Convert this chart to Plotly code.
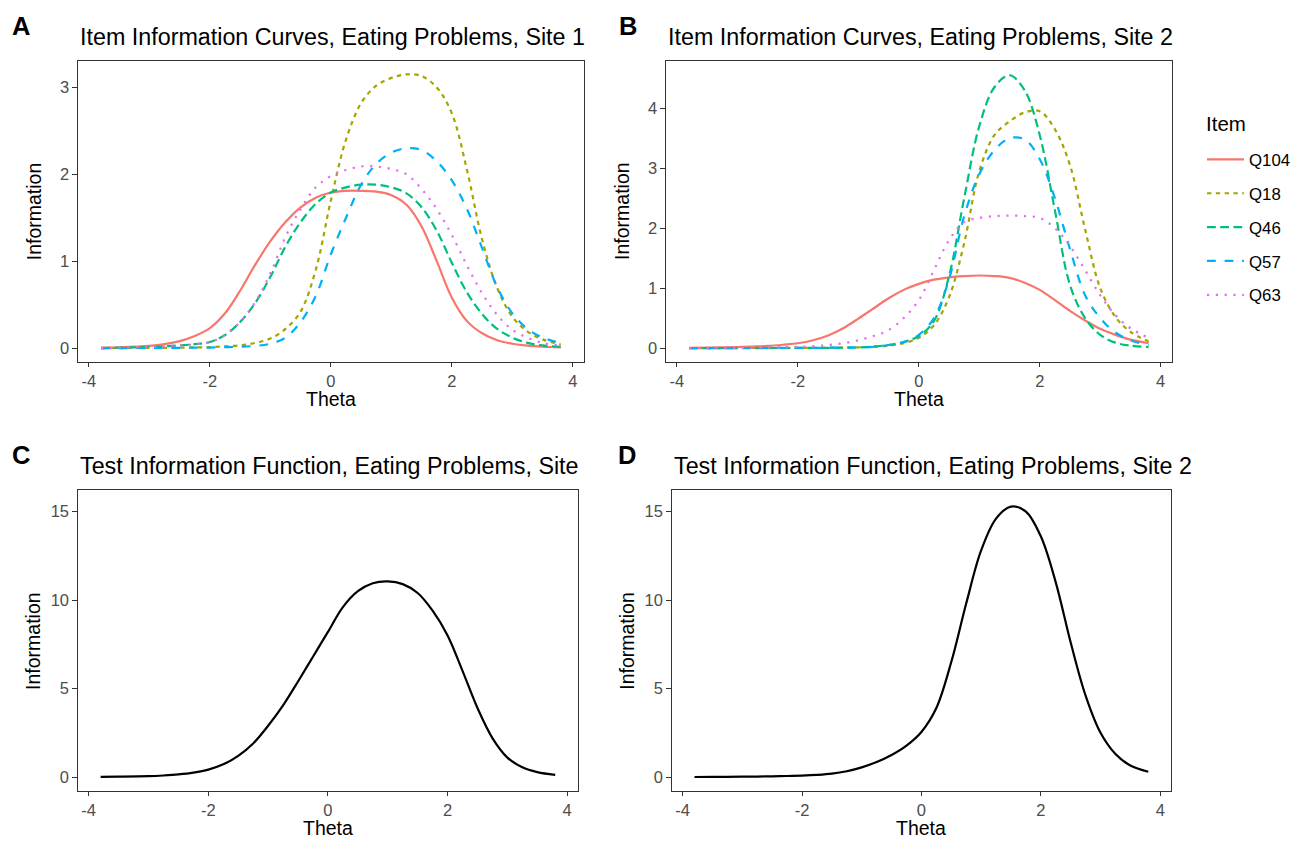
import plotly.graph_objects as go

# ---------------- data ----------------
theta = [-3.8, -3.5, -3.0, -2.75, -2.5, -2.25, -2.0, -1.75, -1.5, -1.25, -1.0, -0.75, -0.5, -0.25,
         0.0, 0.25, 0.5, 0.75, 1.0, 1.25, 1.5, 1.75, 2.0, 2.25, 2.5, 2.75, 3.0, 3.25, 3.5, 3.8]

items = ["Q104", "Q18", "Q46", "Q57", "Q63"]

# Site 1 item information
s1_q104 = [0.004, 0.008, 0.025, 0.045, 0.08, 0.14, 0.23, 0.40, 0.66, 0.96, 1.23, 1.45, 1.62, 1.73,
           1.79, 1.81, 1.81, 1.80, 1.76, 1.65, 1.40, 1.00, 0.58, 0.31, 0.17, 0.09, 0.05, 0.027, 0.015, 0.008]
s1_q18 = [0.0, 0.0, 0.002, 0.003, 0.005, 0.007, 0.01, 0.02, 0.03, 0.06, 0.11, 0.22, 0.42, 0.90,
          1.70, 2.40, 2.82, 3.02, 3.11, 3.15, 3.13, 3.00, 2.70, 2.05, 1.25, 0.69, 0.36, 0.19, 0.10, 0.04]
s1_q46 = [0.0, 0.004, 0.012, 0.02, 0.03, 0.045, 0.07, 0.15, 0.30, 0.52, 0.82, 1.17, 1.45, 1.66,
          1.79, 1.85, 1.88, 1.88, 1.85, 1.78, 1.62, 1.35, 0.98, 0.64, 0.39, 0.22, 0.12, 0.06, 0.03, 0.015]
s1_q57 = [0.0, 0.0, 0.001, 0.002, 0.003, 0.004, 0.006, 0.01, 0.015, 0.025, 0.05, 0.12, 0.30, 0.60,
          1.08, 1.50, 1.88, 2.12, 2.25, 2.30, 2.28, 2.15, 1.93, 1.60, 1.15, 0.70, 0.40, 0.22, 0.12, 0.06]
s1_q63 = [0.0, 0.004, 0.012, 0.02, 0.03, 0.045, 0.07, 0.15, 0.30, 0.53, 0.86, 1.28, 1.60, 1.85,
          1.98, 2.05, 2.09, 2.09, 2.06, 2.00, 1.83, 1.60, 1.30, 0.95, 0.63, 0.38, 0.21, 0.12, 0.06, 0.03]

# Site 2 item information
s2_q104 = [0.003, 0.006, 0.015, 0.024, 0.035, 0.055, 0.08, 0.13, 0.21, 0.33, 0.49, 0.66, 0.83, 0.97,
           1.07, 1.14, 1.18, 1.20, 1.21, 1.20, 1.17, 1.09, 0.97, 0.80, 0.62, 0.46, 0.32, 0.22, 0.14, 0.08]
s2_q18 = [0.0, 0.0, 0.0, 0.0005, 0.001, 0.0015, 0.002, 0.003, 0.005, 0.008, 0.012, 0.02, 0.04, 0.08,
          0.17, 0.38, 0.85, 1.75, 2.95, 3.55, 3.78, 3.93, 3.95, 3.65, 3.05, 1.98, 1.00, 0.52, 0.27, 0.11]
s2_q46 = [0.0, 0.0, 0.0, 0.0, 0.0, 0.0005, 0.001, 0.002, 0.003, 0.005, 0.01, 0.025, 0.05, 0.10,
          0.20, 0.45, 1.20, 2.50, 3.70, 4.35, 4.55, 4.30, 3.55, 2.30, 1.05, 0.50, 0.22, 0.09, 0.04, 0.015]
s2_q57 = [0.0, 0.0, 0.0, 0.0005, 0.001, 0.0015, 0.002, 0.003, 0.005, 0.007, 0.01, 0.02, 0.05, 0.10,
          0.22, 0.50, 1.15, 2.20, 2.90, 3.30, 3.50, 3.48, 3.15, 2.50, 1.65, 0.88, 0.50, 0.26, 0.13, 0.05]
s2_q63 = [0.0, 0.001, 0.003, 0.005, 0.008, 0.013, 0.02, 0.03, 0.05, 0.08, 0.13, 0.20, 0.30, 0.50,
          0.80, 1.30, 1.80, 2.10, 2.17, 2.20, 2.21, 2.20, 2.17, 2.00, 1.70, 1.30, 0.88, 0.55, 0.33, 0.17]

# Test information
test_site1 = [0.01, 0.02, 0.05, 0.09, 0.15, 0.25, 0.42, 0.72, 1.2, 1.9, 2.9, 4.05, 5.4, 6.8,
              8.2, 9.6, 10.5, 10.95, 11.05, 10.9, 10.4, 9.4, 8.0, 6.0, 3.9, 2.2, 1.1, 0.55, 0.28, 0.12]
test_site2 = [0.005, 0.01, 0.02, 0.03, 0.04, 0.06, 0.08, 0.12, 0.19, 0.33, 0.55, 0.85, 1.25, 1.78,
              2.55, 3.9, 6.5, 9.8, 12.8, 14.6, 15.28, 15.0, 13.6, 11.0, 7.6, 4.6, 2.5, 1.3, 0.65, 0.3]

x_tick_vals = [-4, -2, 0, 2, 4]
x_tick_text = ["-4", "-2", "0", "2", "4"]
yA_ticks = [0, 1, 2, 3]
yB_ticks = [0, 1, 2, 3, 4]
yCD_ticks = [0, 5, 10, 15]

titles = ["Item Information Curves, Eating Problems, Site 1",
          "Item Information Curves, Eating Problems, Site 2",
          "Test Information Function, Eating Problems, Site",
          "Test Information Function, Eating Problems, Site 2"]
panel_labels = ["A", "B", "C", "D"]
legend_title = "Item"

# ---------------- styling ----------------
W, H = 1296, 841
FONT = "Liberation Sans, Arial, Helvetica, sans-serif"
colors = ["#F8766D", "#A3A500", "#00BF7D", "#00B0F6", "#E76BF3"]
dashes = ["solid", "4.4px,4.4px", "8.8px,4.4px", "8.8px,8.8px", "2.2px,6.6px"]
LW = 2.2
SMOOTH = 1.0


def px_x(p):
    return p / W


def px_y(p):
    return 1 - p / H


# panel frames in pixels: (left, right, top, bottom)
frames = {
    "A": (78.2, 585.1, 61.0, 361.7),
    "B": (667.6, 1174.3, 61.0, 361.7),
    "C": (78.1, 579.3, 490.3, 790.7),
    "D": (673.4, 1173.7, 490.3, 790.7),
}

fig = go.Figure()

site1 = [s1_q104, s1_q18, s1_q46, s1_q57, s1_q63]
site2 = [s2_q104, s2_q18, s2_q46, s2_q57, s2_q63]

for i, name in enumerate(items):
    fig.add_trace(go.Scatter(x=theta, y=site1[i], mode="lines", name=name,
                             line=dict(color=colors[i], dash=dashes[i], width=LW, shape="spline", smoothing=SMOOTH),
                             xaxis="x", yaxis="y", showlegend=False, legendgroup=name, hoverinfo="skip"))
for i, name in enumerate(items):
    fig.add_trace(go.Scatter(x=theta, y=site2[i], mode="lines", name=name,
                             line=dict(color=colors[i], dash=dashes[i], width=LW, shape="spline", smoothing=SMOOTH),
                             xaxis="x2", yaxis="y2", showlegend=True, legendgroup=name, hoverinfo="skip"))

fig.add_trace(go.Scatter(x=theta, y=test_site1, mode="lines", name="Site 1",
                         line=dict(color="black", width=LW, shape="spline", smoothing=SMOOTH),
                         xaxis="x3", yaxis="y3", showlegend=False, hoverinfo="skip"))
fig.add_trace(go.Scatter(x=theta, y=test_site2, mode="lines", name="Site 2",
                         line=dict(color="black", width=LW, shape="spline", smoothing=SMOOTH),
                         xaxis="x4", yaxis="y4", showlegend=False, hoverinfo="skip"))

axis_common = dict(showline=True, mirror=True, linecolor="#333333", linewidth=1.2,
                   ticks="outside", ticklen=4.5, tickwidth=1.2, tickcolor="#333333",
                   showgrid=False, zeroline=False,
                   tickfont=dict(family=FONT, size=16.5, color="#4D4D4D"))

xr = [-4.18, 4.18]
yranges = {"A": [-0.157, 3.304], "B": [-0.228, 4.788], "C": [-0.77, 16.2], "D": [-0.77, 16.2]}
yticks = {"A": yA_ticks, "B": yB_ticks, "C": yCD_ticks, "D": yCD_ticks}
suffix = {"A": "", "B": "2", "C": "3", "D": "4"}

layout = dict(width=W, height=H, margin=dict(l=0, r=0, t=0, b=0),
              paper_bgcolor="white", plot_bgcolor="white",
              font=dict(family=FONT, color="black"), showlegend=True)

for key in ["A", "B", "C", "D"]:
    l, r, t, b = frames[key]
    s = suffix[key]
    layout["xaxis" + s] = dict(axis_common, domain=[px_x(l), px_x(r)], range=xr,
                               tickvals=x_tick_vals, ticktext=x_tick_text,
                               anchor="y" + s)
    layout["yaxis" + s] = dict(axis_common, domain=[px_y(b), px_y(t)], range=yranges[key],
                               tickvals=yticks[key], ticktext=[str(v) for v in yticks[key]],
                               anchor="x" + s)

layout["legend"] = dict(x=px_x(1205), y=px_y(142), xanchor="left", yanchor="top",
                        font=dict(family=FONT, size=16.8, color="black"),
                        tracegroupgap=9, bgcolor="rgba(0,0,0,0)", itemwidth=37)

annotations = []
label_pos = {"A": (21.5, 26.5), "B": (629, 26.5), "C": (21.5, 455), "D": (628.7, 455)}
title_y = {"A": 36.7, "B": 36.7, "C": 465.7, "D": 465.7}
theta_y = {"A": 399, "B": 399, "C": 828, "D": 828}
info_x = {"A": 34, "B": 624, "C": 32.5, "D": 627.7}

annotations.append(dict(text=legend_title, x=px_x(1207), y=px_y(123), xref="paper", yref="paper",
                        xanchor="left", yanchor="middle", showarrow=False,
                        font=dict(family=FONT, size=20.5, color="black")))

for k, key in enumerate(["A", "B", "C", "D"]):
    l, r, t, b = frames[key]
    lx, ly = label_pos[key]
    annotations.append(dict(text="<b>%s</b>" % panel_labels[k], x=px_x(lx), y=px_y(ly),
                            xref="paper", yref="paper", xanchor="center", yanchor="middle",
                            showarrow=False, font=dict(family=FONT, size=25.5, color="black")))
    annotations.append(dict(text=titles[k], x=px_x(l), y=px_y(title_y[key]),
                            xref="paper", yref="paper", xanchor="left", yanchor="middle",
                            showarrow=False, font=dict(family=FONT, size=23.3, color="black")))
    annotations.append(dict(text="Theta", x=px_x((l + r) / 2), y=px_y(theta_y[key]),
                            xref="paper", yref="paper", xanchor="center", yanchor="middle",
                            showarrow=False, font=dict(family=FONT, size=19.5, color="black")))
    annotations.append(dict(text="Information", x=px_x(info_x[key]), y=px_y((t + b) / 2),
                            xref="paper", yref="paper", xanchor="center", yanchor="middle",
                            textangle=-90, showarrow=False,
                            font=dict(family=FONT, size=19.5, color="black")))

layout["annotations"] = annotations
fig.update_layout(**layout)

fig.write_html("out.html")
